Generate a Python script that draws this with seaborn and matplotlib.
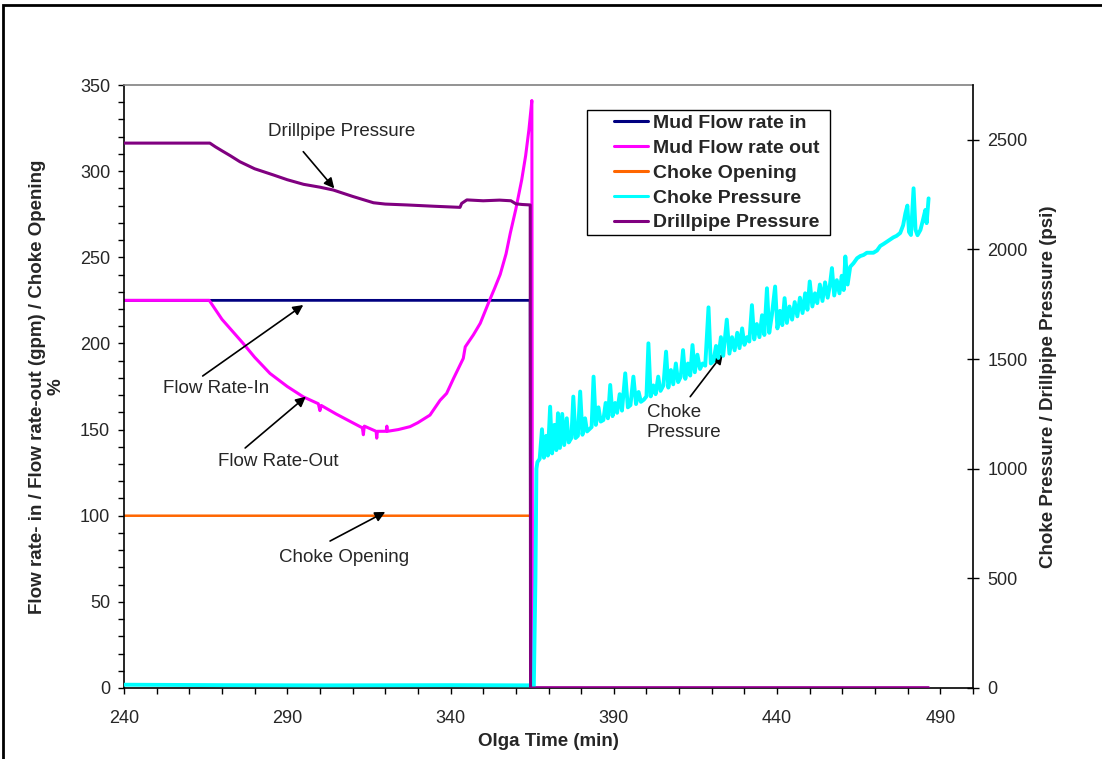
import numpy as np
import pandas as pd
import matplotlib
matplotlib.use("Agg")
import matplotlib.pyplot as plt
from matplotlib.patches import Rectangle
from matplotlib.ticker import MultipleLocator
import seaborn as sns

# ---------------- data ----------------
flow_in_t = [240, 364.4, 364.5, 486.4]
flow_in = [225, 225, 0, 0]

flow_out_t = [240, 250, 260, 266.1, 270, 276.5, 280, 284.7, 290, 294.9, 299.5, 300.0,
              300.4, 305, 310, 313.0, 313.3, 313.6, 317.2, 317.4, 317.6, 320.3, 320.5,
              320.7, 324, 327.6, 330, 333.7, 336.8, 338.8, 341, 343.9, 344.5, 347,
              349.1, 351.9, 353.5, 355.2, 357.0, 358.3, 360.0, 361.8, 363.0, 364.0,
              364.9, 365.1, 486.4]
flow_out = [225, 225, 225, 225, 214, 200, 192, 182.6, 175, 169, 165, 161,
            164, 159, 154, 151, 147, 152, 149, 145, 149, 149, 152,
            149, 150, 151.7, 154, 158.4, 167, 171, 180, 191.3, 198, 205,
            211.7, 224.8, 232, 240, 252, 264, 278, 295, 309, 324,
            341, 0, 0]

choke_open_t = [240, 364.4, 365.3, 486.4]
choke_open = [100, 100, 0, 0]

choke_p_t = [240, 270, 300, 340, 365.0, 365.5, 366.0, 366.3, 366.6, 367.3, 368.0, 368.6,
             369.3, 369.8, 370.5, 371.1, 371.8, 372.4, 372.9, 373.5, 374.2, 374.8, 375.6,
             376.2, 377.0, 377.6, 378.3, 379.0, 379.7, 380.4, 381.2, 381.8, 382.5, 383.2,
             383.8, 384.5, 385.3, 386.0, 386.8, 387.5, 388.2, 388.9, 389.6, 390.4, 391.0,
             391.8, 392.5, 393.5, 394.3, 395.1, 396.0, 396.8, 397.6, 398.3, 399.2, 400.0,
             400.6, 401.3, 402.1, 402.8, 403.6, 404.3, 405.2, 406.0, 406.7, 407.5, 408.2,
             409.0, 409.7, 410.5, 411.2, 411.9, 412.7, 413.4, 414.1, 414.8, 415.6, 416.4,
             417.2, 418.0, 419.0, 419.7, 420.5, 421.3, 422.0, 422.8, 423.5, 424.6, 425.4,
             426.2, 427.0, 427.8, 428.5, 429.3, 430.0, 430.8, 431.5, 432.3, 433.0, 433.8,
             434.6, 435.4, 436.1, 436.9, 437.6, 438.4, 439.4, 440.1, 440.9, 441.6, 442.3,
             443.0, 443.8, 444.6, 445.4, 446.2, 447.0, 447.8, 448.6, 449.3, 450.0, 450.8,
             451.6, 452.3, 453.1, 453.9, 454.7, 455.5, 456.2, 456.8, 457.5, 458.3, 459.1,
             459.8, 460.4, 460.9, 461.6, 462.4, 463.4, 464.5, 465.5, 466.5, 467.5, 468.5,
             469.5, 470.6, 471.6, 472.6, 473.6, 474.6, 475.6, 476.6, 477.7, 478.6, 479.3,
             479.9, 480.4, 481.0, 481.8, 482.4, 483.0, 483.9, 484.6, 485.4, 485.8, 486.4]
choke_p = [15, 13, 12, 13, 12, 5, 500, 1000, 1030, 1045, 1180, 1050,
           1150, 1060, 1283, 1070, 1200, 1085, 1253, 1095, 1250, 1108, 1230,
           1120, 1140, 1329, 1140, 1150, 1352, 1155, 1230, 1170, 1180, 1190,
           1420, 1200, 1280, 1215, 1222, 1300, 1230, 1382, 1240, 1300, 1255,
           1340, 1265, 1435, 1280, 1290, 1420, 1295, 1350, 1305, 1315, 1330,
           1572, 1330, 1380, 1340, 1420, 1355, 1380, 1534, 1370, 1450, 1385,
           1480, 1395, 1420, 1541, 1410, 1480, 1425, 1564, 1440, 1520, 1455,
           1480, 1470, 1736, 1480, 1490, 1560, 1505, 1600, 1515, 1680, 1525,
           1600, 1540, 1620, 1550, 1640, 1565, 1600, 1580, 1746, 1590, 1660,
           1600, 1700, 1610, 1823, 1620, 1700, 1831, 1640, 1720, 1655, 1778,
           1665, 1740, 1680, 1760, 1695, 1780, 1710, 1800, 1725, 1854, 1740,
           1800, 1755, 1840, 1765, 1850, 1780, 1840, 1915, 1790, 1860, 1800,
           1880, 1815, 1968, 1840, 1921, 1937, 1960, 1970, 1975, 1985, 1985,
           1985, 1995, 2016, 2025, 2035, 2045, 2055, 2062, 2075, 2110, 2165,
           2200, 2080, 2066, 2279, 2090, 2065, 2089, 2130, 2180, 2120, 2233]

dpp_t = [240, 266.3, 268, 270, 272.5, 275.5, 280, 285.7, 290, 295, 300, 304.1, 310,
         316.4, 320, 326.6, 335, 342.9, 343.4, 345.0, 350, 355, 358.5, 360, 362,
         364.4, 364.5, 486.4]
dpp = [2485, 2485, 2468, 2450, 2428, 2400, 2368, 2340, 2318, 2297, 2284, 2271, 2242,
       2213, 2207, 2203, 2197, 2192, 2210, 2226, 2222, 2225, 2222, 2208, 2205,
       2203, 0, 0]

series_names = ["Mud Flow rate in", "Mud Flow rate out", "Choke Opening",
                "Choke Pressure", "Drillpipe Pressure"]
x_ticks = [240, 290, 340, 390, 440, 490]
left_ticks = [0, 50, 100, 150, 200, 250, 300, 350]
right_ticks = [0, 500, 1000, 1500, 2000, 2500]

# ---------------- styling ----------------
sns.set_theme(style="white")
plt.rcParams["font.family"] = ["Liberation Sans", "DejaVu Sans"]

W, H = 1102, 759
fig = plt.figure(figsize=(W / 100, H / 100), dpi=100)
L, R, T, B = 124, 973, 85, 688
ax = fig.add_axes([L / W, 1 - B / H, (R - L) / W, (B - T) / H])
ax2 = ax.twinx()

colors = {"Mud Flow rate in": "#000080", "Mud Flow rate out": "#FF00FF",
          "Choke Opening": "#FF6600", "Choke Pressure": "#00FFFF",
          "Drillpipe Pressure": "#800080"}

def draw(a, t, v, name, lw):
    df = pd.DataFrame({"t": t, "v": v})
    sns.lineplot(data=df, x="t", y="v", ax=a, color=colors[name], linewidth=lw,
                 estimator=None, sort=False, label=name)

draw(ax, flow_in_t, flow_in, series_names[0], 2.0)
draw(ax, choke_open_t, choke_open, series_names[2], 1.8)
draw(ax, flow_out_t, flow_out, series_names[1], 2.2)
draw(ax2, choke_p_t, choke_p, series_names[3], 2.8)
draw(ax2, dpp_t, dpp, series_names[4], 2.2)

for a in (ax, ax2):
    if a.get_legend() is not None:
        a.get_legend().remove()

ax.set_xlim(240, 500)
ax.set_ylim(0, 350)
ax2.set_ylim(0, 2750)
ax.set_xticks(x_ticks)
ax.set_yticks(left_ticks)
ax2.set_yticks(right_ticks)
ax.xaxis.set_minor_locator(MultipleLocator(10))
ax.yaxis.set_minor_locator(MultipleLocator(10))

ax.tick_params(axis="x", which="both", direction="out", length=4.5, width=1,
               color="black", labelsize=13, pad=11, bottom=True)
ax.tick_params(axis="y", which="both", direction="out", length=4, width=1,
               color="black", labelsize=13, pad=6, left=True)
ax2.tick_params(axis="y", which="major", direction="inout", length=9, width=1,
                color="black", labelsize=13, pad=6, right=True)

for s in ("left", "bottom"):
    ax.spines[s].set_color("black")
    ax.spines[s].set_linewidth(1.2)
ax.spines["top"].set_color("#808080")
ax.spines["top"].set_linewidth(1.2)
ax.spines["right"].set_visible(False)
ax2.spines["right"].set_color("black")
ax2.spines["right"].set_linewidth(1.2)
for s in ("left", "top", "bottom"):
    ax2.spines[s].set_visible(False)
ax.grid(False)
ax2.grid(False)

ax.set_xlabel("Olga Time (min)", fontsize=13.5, fontweight="bold", va="center")
ax.xaxis.set_label_coords(0.5, -0.088)
ax.set_ylabel("Flow rate- in / Flow rate-out (gpm) / Choke Opening\n%",
              fontsize=13.5, fontweight="bold", va="center", linespacing=1.15)
ax.yaxis.set_label_coords(-0.091, 0.5)
ax2.set_ylabel("Choke Pressure / Drillpipe Pressure (psi)", fontsize=13.5,
               fontweight="bold", va="center")
ax2.yaxis.set_label_coords(1.0895, 0.5)

# legend: custom frame box + frameless legend
box = Rectangle((587 / W, 1 - 235 / H), (830 - 587) / W, 125 / H,
                transform=fig.transFigure, facecolor="white", edgecolor="black",
                linewidth=1.0, zorder=4, clip_on=False)
ax2.add_artist(box)
handles, labels = [], []
for a in (ax, ax2):
    h, l = a.get_legend_handles_labels()
    handles += h
    labels += l
order = [labels.index(n) for n in series_names]
leg = ax2.legend([handles[i] for i in order], [labels[i] for i in order],
                 loc="upper left", bbox_to_anchor=(614 / W, 1 - 114.5 / H),
                 bbox_transform=fig.transFigure, frameon=False, borderpad=0,
                 borderaxespad=0, labelspacing=0.37, handlelength=1.75,
                 handletextpad=0.28, prop={"size": 14, "weight": "bold"})
leg.set_zorder(5)
for lh in leg.get_lines():
    lh.set_linewidth(2.2)

# annotations
arrow = dict(arrowstyle="-|>", color="black", lw=1.2, mutation_scale=15,
             shrinkA=0, shrinkB=0)
ax.annotate("", xy=(304.4, 290.0), xytext=(294.9, 311.3), arrowprops=arrow)
ax.text(306.5, 323.3, "Drillpipe Pressure", fontsize=13.5, ha="center", va="center")
ax.annotate("", xy=(294.9, 222.3), xytext=(264.1, 181.1), arrowprops=arrow)
ax.text(268.2, 174.1, "Flow Rate-In", fontsize=13.5, ha="center", va="center")
ax.annotate("", xy=(295.7, 169.1), xytext=(277.1, 139.3), arrowprops=arrow)
ax.text(287.3, 131.2, "Flow Rate-Out", fontsize=13.5, ha="center", va="center")
ax.annotate("", xy=(320.0, 102.2), xytext=(303.1, 85.3), arrowprops=arrow)
ax.text(307.4, 76.0, "Choke Opening", fontsize=13.5, ha="center", va="center")
ax.annotate("", xy=(423.4, 193.9), xytext=(413.4, 169.1), arrowprops=arrow)
ax.text(400.1, 154.0, "Choke\nPressure", fontsize=13.5, ha="left", va="center",
        linespacing=1.2)

# outer chart border
fig.add_artist(Rectangle((3 / W, -0.02), 1.2, 1 - 5 / H + 0.02, transform=fig.transFigure,
                         fill=False, edgecolor="black", linewidth=2.0, clip_on=False))

fig.savefig("out.png", dpi=100, facecolor="white")
